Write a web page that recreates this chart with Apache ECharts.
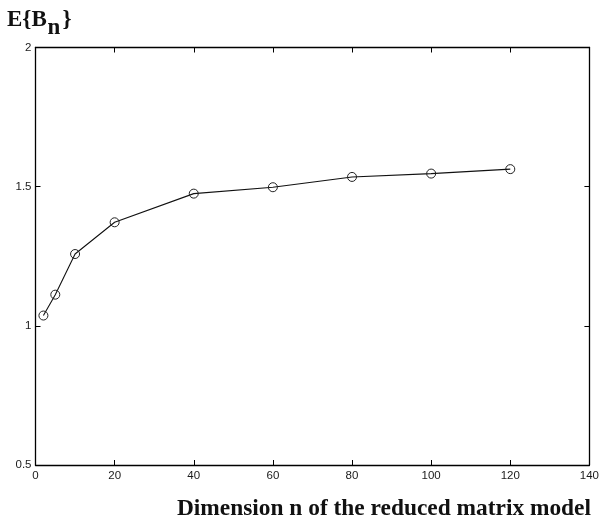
<!DOCTYPE html>
<html>
<head>
<meta charset="utf-8">
<script src="https://cdn.jsdelivr.net/npm/echarts@6/dist/echarts.min.js"></script>
<style>
html,body{margin:0;padding:0;background:#fff;}
#chart{width:602px;height:529px;}
</style>
</head>
<body>
<div id="chart"></div>
<script>
const dimensions = [2, 5, 10, 20, 40, 60, 80, 100, 120];
const expectedB = [1.037, 1.112, 1.258, 1.372, 1.475, 1.498, 1.535, 1.547, 1.563];
const xTitle = 'Dimension n of the reduced matrix model';
const yTitleMain = 'E{B';
const yTitleSub = 'n';
const yTitleEnd = '}';

const chart = echarts.init(document.getElementById('chart'), null, {renderer: 'canvas'});

const axisLineStyle = {color: '#000', width: 1.3};
const tickStyle = {show: true, inside: true, length: 5, lineStyle: {color: '#000', width: 1}};
const labelStyle = {color: '#1a1a1a', fontFamily: 'Liberation Sans', fontSize: 11.5};

const serifBold = 'bold 23px "Liberation Serif"';

chart.setOption({
  animation: false,
  backgroundColor: '#fff',
  grid: {left: 35.5, right: 10, top: 47.5, bottom: 64, containLabel: false},
  xAxis: [
    {
      type: 'value', min: 0, max: 140, interval: 20, position: 'bottom',
      axisLine: {show: true, onZero: false, lineStyle: axisLineStyle},
      axisTick: tickStyle,
      axisLabel: Object.assign({margin: 5}, labelStyle),
      splitLine: {show: false}
    },
    {
      type: 'value', min: 0, max: 140, interval: 20, position: 'top',
      axisLine: {show: true, onZero: false, lineStyle: axisLineStyle},
      axisTick: tickStyle,
      axisLabel: {show: false},
      splitLine: {show: false}
    }
  ],
  yAxis: [
    {
      type: 'value', min: 0.5, max: 2, interval: 0.5, position: 'left',
      axisLine: {show: true, onZero: false, lineStyle: axisLineStyle},
      axisTick: tickStyle,
      axisLabel: Object.assign({margin: 4}, labelStyle),
      splitLine: {show: false}
    },
    {
      type: 'value', min: 0.5, max: 2, interval: 0.5, position: 'right',
      axisLine: {show: true, onZero: false, lineStyle: axisLineStyle},
      axisTick: tickStyle,
      axisLabel: {show: false},
      splitLine: {show: false}
    }
  ],
  series: [{
    type: 'line',
    xAxisIndex: 0, yAxisIndex: 0,
    data: dimensions.map((d, i) => [d, expectedB[i]]),
    symbol: 'circle',
    symbolSize: 9,
    showAllSymbol: true,
    lineStyle: {color: '#111', width: 1.1},
    itemStyle: {color: 'rgba(255,255,255,0)', borderColor: '#222', borderWidth: 1},
    emphasis: {disabled: true}
  }],
  graphic: [
    {type: 'text', x: 7, y: 19.7, style: {text: yTitleMain, font: serifBold, fill: '#111', verticalAlign: 'middle', align: 'left'}},
    {type: 'text', x: 47.5, y: 28.5, style: {text: yTitleSub, font: serifBold, fill: '#111', verticalAlign: 'middle', align: 'left'}},
    {type: 'text', x: 62.5, y: 19.7, style: {text: yTitleEnd, font: serifBold, fill: '#111', verticalAlign: 'middle', align: 'left'}},
    {type: 'text', x: 591, y: 509, style: {text: xTitle, font: 'bold 23.4px "Liberation Serif"', fill: '#111', verticalAlign: 'middle', align: 'right'}}
  ]
});
</script>
</body>
</html>
